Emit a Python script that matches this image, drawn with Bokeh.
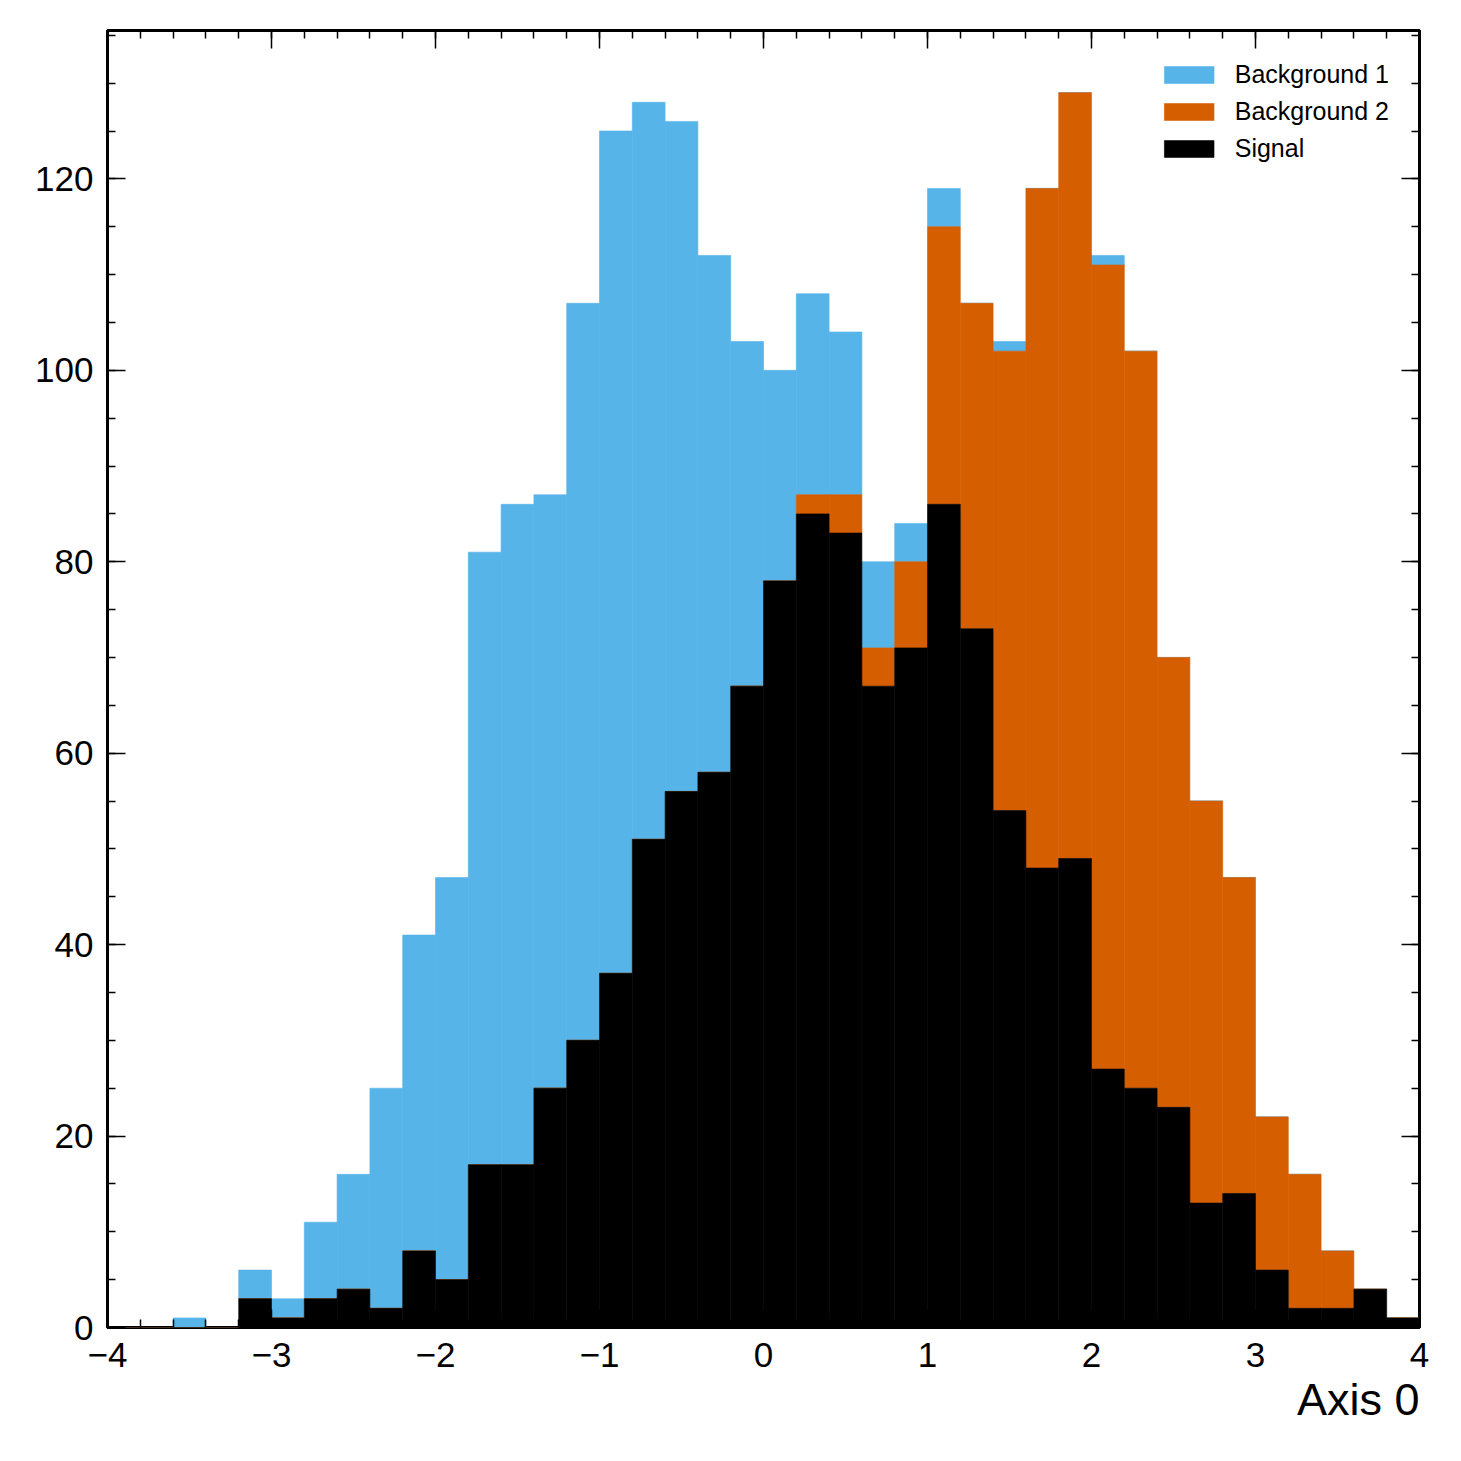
import numpy as np
from bokeh.plotting import figure
from bokeh.models import ColumnDataSource, FixedTicker, LinearAxis, Range1d, Title
from bokeh.embed import file_html
from bokeh.resources import INLINE

# ---- data ----
bin_edges = [round(-4 + 0.2 * i, 1) for i in range(41)]
signal = [0, 0, 0, 0, 3, 1, 3, 4, 2, 8, 5, 17, 17, 25, 30, 37, 51, 56, 58, 67,
          78, 85, 83, 67, 71, 86, 73, 54, 48, 49, 27, 25, 23, 13, 14, 6, 2, 2, 4, 1]
background_2 = [0] * 21 + [2, 4, 4, 9, 29, 34, 48, 71, 80, 84, 77, 47, 42, 33, 16, 14, 6, 0, 0]
background_1 = [0, 0, 1, 0, 3, 2, 8, 12, 23, 33, 42, 64, 69, 62, 77, 88, 77, 70, 54, 36,
                22, 21, 17, 9, 4, 4, 0, 1, 0, 0, 1, 0, 0, 0, 0, 0, 0, 0, 0, 0]
series_names = ["Background 1", "Background 2", "Signal"]
series_colors = ["#56B4E9", "#D55E00", "#000000"]
x_ticks = [-4, -3, -2, -1, 0, 1, 2, 3, 4]
y_ticks = [0, 20, 40, 60, 80, 100, 120]
x_label = "Axis 0"

FONT = "Liberation Sans"

lo = np.array(bin_edges[:-1])
hi = np.array(bin_edges[1:])
s = np.array(signal, dtype=float)
b2 = np.array(background_2, dtype=float)
b1 = np.array(background_1, dtype=float)

p = figure(width=1453, height=1453, output_backend="svg", toolbar_location=None,
           x_range=Range1d(-4, 4), y_range=Range1d(0, 135.5),
           min_border_left=107, min_border_right=34, min_border_top=30, min_border_bottom=126)
p.xgrid.visible = False
p.ygrid.visible = False
p.background_fill_color = "white"
p.outline_line_color = "black"
p.outline_line_width = 3

# stacked: signal bottom, background 2, background 1 on top
stack_bottoms = [s + b2, s, np.zeros_like(s)]
stack_tops = [s + b2 + b1, s + b2, s]
for name, col, bot, top in zip(series_names, series_colors, stack_bottoms, stack_tops):
    src = ColumnDataSource(dict(left=lo, right=hi, bottom=bot, top=top))
    p.quad(left="left", right="right", bottom="bottom", top="top", source=src,
           fill_color=col, line_color=col, line_width=0.6, legend_label=name)

x_minor = [round(-4 + 0.2 * i, 1) for i in range(41)]
y_minor = list(range(0, 136, 5))


def style_axis(ax, ticks, minor, show_labels):
    ax.ticker = FixedTicker(ticks=ticks, minor_ticks=minor)
    ax.axis_line_color = None
    ax.major_tick_in = 18
    ax.major_tick_out = 0
    ax.minor_tick_in = 8
    ax.minor_tick_out = 0
    ax.major_tick_line_width = 1.5
    ax.minor_tick_line_width = 1.5
    ax.major_tick_line_color = "black"
    ax.minor_tick_line_color = "black"
    ax.major_label_text_font = FONT
    ax.major_label_text_font_size = "35px"
    ax.major_label_text_color = "black"
    if show_labels:
        ax.major_label_overrides = {t: (str(t).replace("-", "\u2212")) for t in ticks}
    else:
        ax.major_label_overrides = {t: "" for t in ticks}
        ax.major_label_text_font_size = "0px"
        ax.major_label_standoff = 0


xa = p.xaxis[0]
ya = p.yaxis[0]
style_axis(xa, x_ticks, x_minor, True)
style_axis(ya, y_ticks, y_minor, True)
xa.major_label_standoff = 15
ya.major_label_standoff = 14

p.add_layout(Title(text=x_label, align="right", text_font=FONT, text_font_size="45px",
                   text_font_style="normal", text_color="black", standoff=5, offset=0),
             "below")

top_ax = LinearAxis()
right_ax = LinearAxis()
style_axis(top_ax, x_ticks, x_minor, False)
style_axis(right_ax, y_ticks, y_minor, False)
p.add_layout(top_ax, "above")
p.add_layout(right_ax, "right")

lg = p.legend[0]
lg.location = "top_right"
lg.border_line_color = None
lg.background_fill_alpha = 0
lg.label_text_font = FONT
lg.label_text_font_size = "25px"
lg.label_text_color = "black"
lg.glyph_width = 62
lg.glyph_height = 21
lg.label_standoff = 15
lg.label_height = 28
lg.spacing = 8
lg.margin = 30
lg.padding = 10

open("out.html", "w").write(file_html(p, INLINE))
